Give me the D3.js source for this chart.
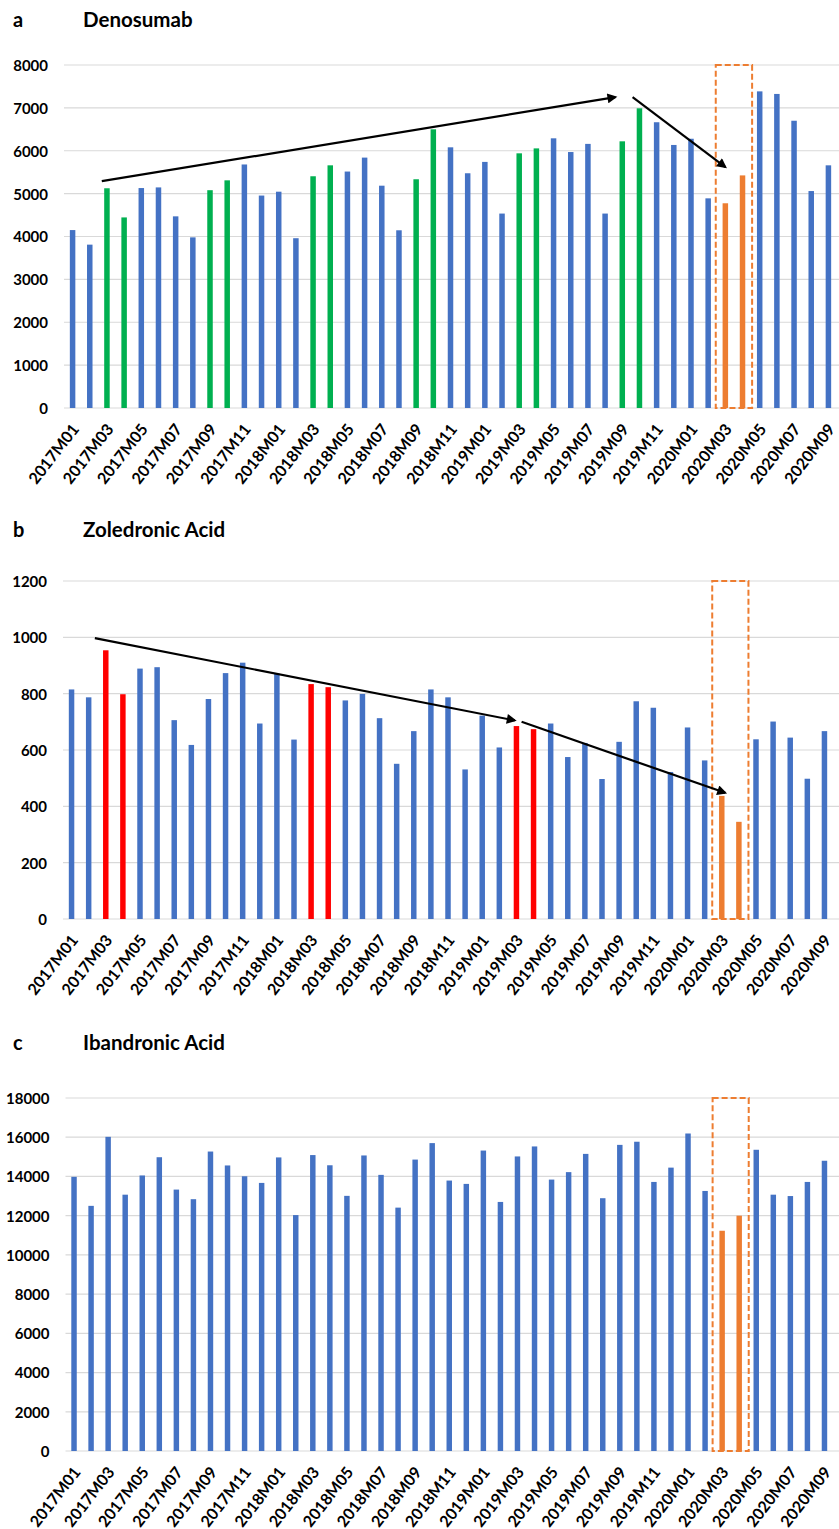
<!DOCTYPE html>
<html>
<head>
<meta charset="utf-8">
<script src="https://cdn.jsdelivr.net/npm/d3@7"></script>
<style>
  body { margin: 0; background: #fff; }
  text { font-family: Lato, "Open Sans", sans-serif; font-weight: 700; fill: #000; }
</style>
</head>
<body>
<svg id="chart" width="839" height="1529"></svg>
<script>
// months on the x axis
const months = [
  "2017M01","2017M02","2017M03","2017M04","2017M05","2017M06","2017M07","2017M08","2017M09","2017M10","2017M11","2017M12",
  "2018M01","2018M02","2018M03","2018M04","2018M05","2018M06","2018M07","2018M08","2018M09","2018M10","2018M11","2018M12",
  "2019M01","2019M02","2019M03","2019M04","2019M05","2019M06","2019M07","2019M08","2019M09","2019M10","2019M11","2019M12",
  "2020M01","2020M02","2020M03","2020M04","2020M05","2020M06","2020M07","2020M08","2020M09"
];
// only every other month gets a label
const tickMonths = months.filter((m, i) => i % 2 == 0);

const denosumab = [
  4150, 3810, 5125, 4445, 5130, 5145, 4470, 3980, 5080, 5310, 5680, 4955,
  5045, 3960, 5405, 5660, 5515, 5840, 5185, 4145, 5335, 6500, 6080, 5475,
  5740, 4535, 5940, 6055, 6290, 5970, 6160, 4535, 6220, 6990, 6665, 6135,
  6280, 4890, 4775, 5425, 7385, 7325, 6700, 5060, 5660
];
const zoledronic = [
  815, 787, 954, 798, 889, 894, 706, 618, 781, 873, 910, 694,
  871, 637, 834, 823, 776, 799, 713, 551, 667, 815, 787, 531,
  722, 609, 685, 674, 694, 575, 625, 497, 629, 773, 750, 522,
  680, 563, 437, 345, 638, 701, 644, 498, 667
];
const ibandronic = [
  13980, 12500, 16020, 13070, 14050, 14980, 13330, 12840, 15270, 14560, 14010, 13670,
  14970, 12030, 15090, 14570, 13010, 15070, 14080, 12410, 14860, 15700, 13790, 13620,
  15320, 12700, 15020, 15530, 13840, 14220, 15150, 12890, 15610, 15770, 13720, 14450,
  16190, 13260, 11230, 12000, 15360, 13070, 13000, 13720, 14800
];

// months drawn in a different colour
const denoGreen = ["2017M03","2017M04","2017M09","2017M10","2018M03","2018M04","2018M09","2018M10","2019M03","2019M04","2019M09","2019M10"];
const zoleRed = ["2017M03","2017M04","2018M03","2018M04","2019M03","2019M04"];
const covidMonths = ["2020M03","2020M04"];

// y axis ticks
const denoTicks = [0,1000,2000,3000,4000,5000,6000,7000,8000];
const zoleTicks = [0,200,400,600,800,1000,1200];
const ibanTicks = [0,2000,4000,6000,8000,10000,12000,14000,16000,18000];

// trend arrows: [month index (fractional), value] pairs
const denoArrows = [ [[1.7, 5290], [31.6, 7250]], [[32.6, 7250], [38.0, 5620]] ];
const zoleArrows = [ [[1.36, 997], [25.9, 705]], [[26.3, 700], [38.2, 448]] ];

const blue = "#4472C4", green = "#00B050", red = "#FF0000", orange = "#ED7D31";

const svg = d3.select("#chart");

svg.append("defs").append("marker")
  .attr("id", "head")
  .attr("viewBox", "0 0 10 10")
  .attr("refX", 8).attr("refY", 5)
  .attr("markerWidth", 5).attr("markerHeight", 4.5)
  .attr("orient", "auto")
  .append("path").attr("d", "M0,0 L10,5 L0,10 z").attr("fill", "#000");

function drawPanel(cfg) {
  const g = svg.append("g");
  const x = d3.scaleBand().domain(months).range([cfg.x0, cfg.x1]).paddingInner(0.68).paddingOuter(0.34);
  const y = d3.scaleLinear().domain([0, d3.max(cfg.ticks)]).range([cfg.bottom, cfg.top]);
  const step = x.step();
  const xi = i => x(months[0]) + x.bandwidth() / 2 + i * step;

  // titre
  g.append("text").attr("x", 13).attr("y", cfg.titleY).style("font-size", "20px").text(cfg.letter);
  g.append("text").attr("x", 83).attr("y", cfg.titleY).style("font-size", "20.5px").text(cfg.title);

  // grid
  g.selectAll(".grid").data(cfg.ticks).join("line")
    .attr("x1", cfg.x0).attr("x2", 839)
    .attr("y1", d => y(d)).attr("y2", d => y(d))
    .attr("stroke", "#d9d9d9").attr("stroke-width", 1.2);

  // y axis labels
  const yAxis = d3.axisLeft(y).tickValues(cfg.ticks).tickSize(0).tickPadding(0).tickFormat(d3.format("d"));
  g.append("g").attr("transform", `translate(${cfg.x0 - 16},0)`).call(yAxis)
    .call(a => a.select(".domain").remove())
    .call(a => a.selectAll("text").style("font-size", "15px").style("font-family", "Lato, sans-serif")
      .style("font-weight", "700").attr("fill", "#000").attr("dy", "0.36em"));

  // bars
  g.selectAll(".bar").data(cfg.values).join("rect")
    .attr("x", (d, i) => x(months[i]))
    .attr("width", x.bandwidth())
    .attr("y", d => y(d))
    .attr("height", d => y(0) - y(d))
    .attr("fill", (d, i) => covidMonths.includes(months[i]) ? orange
      : (cfg.highlight.includes(months[i]) ? cfg.hlColor : blue));

  // x axis labels
  g.selectAll(".xl").data(tickMonths).join("text")
    .attr("transform", d => `translate(${x(d) + x.bandwidth() / 2 + 3},${cfg.bottom + 18}) rotate(-52)`)
    .attr("text-anchor", "end")
    .attr("dy", "0.35em")
    .style("font-size", "16px")
    .text(d => d);

  // dashed box round March-April 2020
  const bx0 = x(covidMonths[0]) - (step - x.bandwidth()) / 2 - 1;
  const bx1 = x(covidMonths[1]) + x.bandwidth() + (step - x.bandwidth()) / 2 + 1;
  g.append("rect")
    .attr("x", bx0).attr("y", y(d3.max(cfg.ticks)))
    .attr("width", bx1 - bx0).attr("height", y(0) - y(d3.max(cfg.ticks)))
    .attr("fill", "none").attr("stroke", orange).attr("stroke-width", 2)
    .attr("stroke-dasharray", "6,3");

  // arrows
  g.selectAll(".arrow").data(cfg.arrows).join("line")
    .attr("x1", d => xi(d[0][0])).attr("y1", d => y(d[0][1]))
    .attr("x2", d => xi(d[1][0])).attr("y2", d => y(d[1][1]))
    .attr("stroke", "#000").attr("stroke-width", 2.2)
    .attr("marker-end", "url(#head)");
}

drawPanel({ letter: "a", title: "Denosumab", titleY: 27, top: 65, bottom: 408, x0: 64, x1: 837,
  ticks: denoTicks, values: denosumab, highlight: denoGreen, hlColor: green, arrows: denoArrows });
drawPanel({ letter: "b", title: "Zoledronic Acid", titleY: 537, top: 581, bottom: 919, x0: 63, x1: 833,
  ticks: zoleTicks, values: zoledronic, highlight: zoleRed, hlColor: red, arrows: zoleArrows });
drawPanel({ letter: "c", title: "Ibandronic Acid", titleY: 1050, top: 1098, bottom: 1451, x0: 65.5, x1: 833,
  ticks: ibanTicks, values: ibandronic, highlight: [], hlColor: blue, arrows: [] });
</script>
</body>
</html>
